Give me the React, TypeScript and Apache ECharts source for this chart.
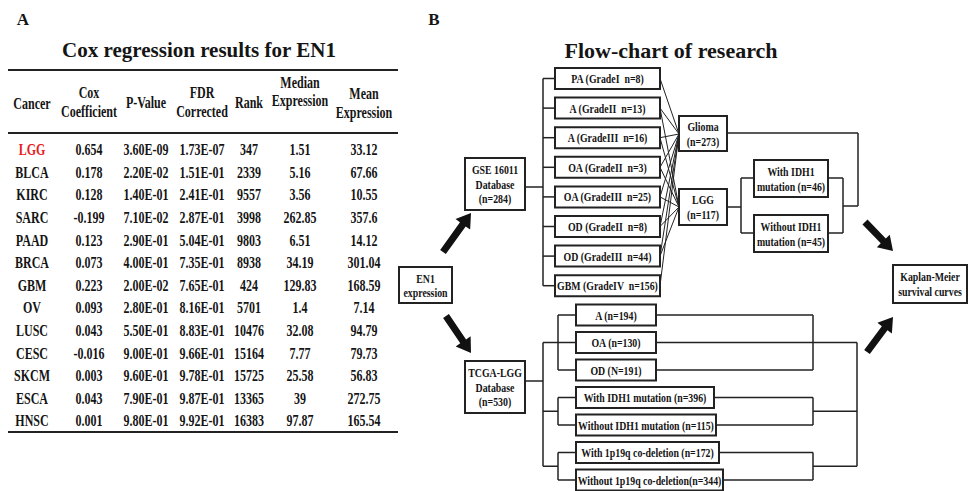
import React, { useEffect, useRef } from "react";
import * as echarts from "echarts";

// ---------------- DATA ----------------
const cancers = ["LGG", "BLCA", "KIRC", "SARC", "PAAD", "BRCA", "GBM", "OV", "LUSC", "CESC", "SKCM", "ESCA", "HNSC"];
const coxCoefficients = [0.654, 0.178, 0.128, -0.199, 0.123, 0.073, 0.223, 0.093, 0.043, -0.016, 0.003, 0.043, 0.001];
const pValues = [3.6e-9, 2.2e-2, 1.4e-1, 7.1e-2, 2.9e-1, 4.0e-1, 2.0e-2, 2.8e-1, 5.5e-1, 9.0e-1, 9.6e-1, 7.9e-1, 9.8e-1];
const fdrCorrected = [1.73e-7, 1.51e-1, 2.41e-1, 2.87e-1, 5.04e-1, 7.35e-1, 7.65e-1, 8.16e-1, 8.83e-1, 9.66e-1, 9.78e-1, 9.87e-1, 9.92e-1];
const ranks = [347, 2339, 9557, 3998, 9803, 8938, 424, 5701, 10476, 15164, 15725, 13365, 16383];
const medianExpression = [1.51, 5.16, 3.56, 262.85, 6.51, 34.19, 129.83, 1.4, 32.08, 7.77, 25.58, 39, 97.87];
const meanExpression = [33.12, 67.66, 10.55, 357.6, 14.12, 301.04, 168.59, 7.14, 94.79, 79.73, 56.83, 272.75, 165.54];
const tableHeaders = [["Cancer"], ["Cox", "Coefficient"], ["P-Value"], ["FDR", "Corrected"], ["Rank"], ["Median", "Expression"], ["Mean", "Expression"]];
const highlightCancer = "LGG";

const titleA = "Cox regression results for EN1";
const titleB = "Flow-chart of research";

const gseGroups = ["PA (GradeI  n=8)", "A (GradeII  n=13)", "A (GradeIII  n=16)", "OA (GradeII  n=3)", "OA (GradeIII  n=25)", "OD (GradeII  n=8)", "OD (GradeIII  n=44)", "GBM (GradeIV  n=156)"];
const gseToLgg = [false, true, true, true, true, true, true, false];
const tcgaGroups = ["A (n=194)", "OA (n=130)", "OD (N=191)", "With IDH1 mutation (n=396)", "Without IDH1 mutation (n=115)", "With 1p19q co-deletion (n=172)", "Without 1p19q co-deletion(n=344)"];
const en1Label = ["EN1", "expression"];
const gseLabel = ["GSE 16011", "Database", "(n=284)"];
const tcgaLabel = ["TCGA-LGG", "Database", "(n=530)"];
const gliomaLabel = ["Glioma", "(n=273)"];
const lggLabel = ["LGG", "(n=117)"];
const idhWithLabel = ["With IDH1", "mutation (n=46)"];
const idhWithoutLabel = ["Without IDH1", "mutation (n=45)"];
const kmLabel = ["Kaplan-Meier", "survival curves"];

// ---------------- LAYOUT ----------------
const SERIF = "'Liberation Serif', 'Times New Roman', serif";
const INK = "#151515";
const LINE = "#222";
const colX = [32, 89, 146, 202, 249, 300, 364];
const rowY0 = 149.5;
const rowStep = 22.6;
const TABLE_SX = 0.75;
const FLOW_SX = 0.73;
const FLOW_FS = 13.5;

function sci(v: number) {
  const [m, e] = v.toExponential(2).split("e");
  const n = parseInt(e, 10);
  return m + "E" + (n < 0 ? "-" : "+") + String(Math.abs(n)).padStart(2, "0");
}

function txt(x: number, y: number, text: string, size: number, sx = 1, color = INK) {
  return {
    type: "text", x, y, scaleX: sx, silent: true,
    style: {
      text, fill: color, fontSize: size, fontWeight: "bold", fontFamily: SERIF,
      textAlign: "center", textVerticalAlign: "middle", align: "center", verticalAlign: "middle",
    },
  };
}
function ln(x1: number, y1: number, x2: number, y2: number, w = 1.5, c = LINE) {
  return { type: "line", silent: true, shape: { x1, y1, x2, y2 }, style: { stroke: c, lineWidth: w } };
}
function box(x: number, y: number, w: number, h: number, lines: string[], size = FLOW_FS, lh = 14) {
  const els: any[] = [
    { type: "rect", silent: true, shape: { x, y, width: w, height: h }, style: { fill: "#fff", stroke: LINE, lineWidth: 2 } },
  ];
  const cy = y + h / 2 - ((lines.length - 1) * lh) / 2;
  lines.forEach((t, i) => els.push(txt(x + w / 2, cy + i * lh, t, size, FLOW_SX)));
  return els;
}
function arrow(x1: number, y1: number, x2: number, y2: number, sw = 7, hw = 18, hl = 14) {
  const dx = x2 - x1, dy = y2 - y1, L = Math.hypot(dx, dy);
  const ux = dx / L, uy = dy / L, px = -uy, py = ux;
  const bx = x2 - ux * hl, by = y2 - uy * hl;
  return {
    type: "polygon", silent: true,
    shape: {
      points: [
        [x1 + (px * sw) / 2, y1 + (py * sw) / 2], [bx + (px * sw) / 2, by + (py * sw) / 2], [bx + (px * hw) / 2, by + (py * hw) / 2],
        [x2, y2], [bx - (px * hw) / 2, by - (py * hw) / 2], [bx - (px * sw) / 2, by - (py * sw) / 2], [x1 - (px * sw) / 2, y1 - (py * sw) / 2],
      ],
    },
    style: { fill: "#111" },
  };
}

function buildElements() {
  const els: any[] = [];
  // ---- Panel A ----
  els.push(txt(23, 19, "A", 17));
  els.push(txt(199, 50, titleA, 21));
  els.push(ln(8, 70, 398, 70, 2));
  els.push(ln(8, 133, 398, 133, 2));
  els.push(ln(8, 432, 398, 432, 2));
  const headerY: number[][] = [[103], [92, 111], [102], [92, 111], [102], [82, 100], [93, 112]];
  tableHeaders.forEach((h, c) => h.forEach((t, i) => els.push(txt(colX[c], headerY[c][i], t, 16, TABLE_SX))));
  cancers.forEach((name, r) => {
    const y = rowY0 + r * rowStep;
    const vals = [
      name, coxCoefficients[r].toFixed(3), sci(pValues[r]), sci(fdrCorrected[r]), String(ranks[r]),
      String(medianExpression[r]), String(meanExpression[r]),
    ];
    vals.forEach((v, c) => els.push(txt(colX[c], y, v, 16, TABLE_SX, c === 0 && name === highlightCancer ? "#e8201c" : INK)));
  });

  // ---- Panel B ----
  els.push(txt(434, 19, "B", 17));
  els.push(txt(671, 50, titleB, 22));

  // GSE branch
  const gTop0 = 68, gPitch = 29.6, gH = 21, gX = 555, gW = 105;
  const gCy = gseGroups.map((_, i) => gTop0 + i * gPitch + gH / 2);
  els.push(ln(525, 187, 543, 187));
  els.push(ln(543, gCy[0], 543, gCy[gCy.length - 1]));
  gCy.forEach((cy) => els.push(ln(543, cy, gX, cy)));
  gCy.forEach((cy, i) => {
    els.push(ln(gX + gW, cy, 679, 134, 1));
    if (gseToLgg[i]) els.push(ln(gX + gW, cy, 679, 207, 1));
  });
  // glioma / LGG connectors
  els.push(ln(727, 133, 858, 133));
  els.push(ln(858, 133, 858, 206));
  els.push(ln(727, 207, 741, 207));
  els.push(ln(741, 178, 741, 233));
  els.push(ln(741, 178, 754, 178));
  els.push(ln(741, 233, 754, 233));
  els.push(ln(828, 178, 843, 178));
  els.push(ln(828, 233, 843, 233));
  els.push(ln(843, 178, 843, 233));
  els.push(ln(843, 206, 858, 206));

  // TCGA branch
  const tTop0 = 304.5, tPitch = 27.5, tH = 21, tX = 576;
  const tW = [80, 80, 80, 138, 140, 143, 147];
  const tCy = tcgaGroups.map((_, i) => tTop0 + i * tPitch + tH / 2);
  els.push(ln(525, 381, 543, 381));
  const groupsIdx = [[0, 1, 2], [3, 4], [5, 6]];
  const mids = groupsIdx.map((g) => (tCy[g[0]] + tCy[g[g.length - 1]]) / 2);
  els.push(ln(543, mids[0], 543, mids[2]));
  groupsIdx.forEach((g, k) => {
    els.push(ln(543, mids[k], 558, mids[k]));
    els.push(ln(558, tCy[g[0]], 558, tCy[g[g.length - 1]]));
    g.forEach((i) => els.push(ln(558, tCy[i], tX, tCy[i])));
    // right side
    g.forEach((i) => els.push(ln(tX + tW[i], tCy[i], 813, tCy[i])));
    els.push(ln(813, tCy[g[0]], 813, tCy[g[g.length - 1]]));
    els.push(ln(813, mids[k], 857, mids[k]));
  });
  els.push(ln(857, mids[0], 857, mids[2]));

  // Boxes
  els.push(...box(399, 267, 53, 36, en1Label, FLOW_FS, 14));
  els.push(...box(465, 158, 60, 52, gseLabel, FLOW_FS, 14.5));
  els.push(...box(465, 361, 60, 52, tcgaLabel, FLOW_FS, 14.5));
  gseGroups.forEach((t, i) => els.push(...box(gX, gTop0 + i * gPitch, gW, gH, [t])));
  els.push(...box(679, 116, 48, 35, gliomaLabel, FLOW_FS, 15));
  els.push(...box(679, 189, 48, 36, lggLabel, FLOW_FS, 15));
  els.push(...box(754, 160, 74, 37, idhWithLabel, FLOW_FS, 15));
  els.push(...box(754, 215, 74, 37, idhWithoutLabel, FLOW_FS, 15));
  els.push(...box(893, 265, 74, 38, kmLabel, FLOW_FS, 15));
  tcgaGroups.forEach((t, i) => els.push(...box(tX, tTop0 + i * tPitch, tW[i], tH, [t])));

  // Arrows
  els.push(arrow(443, 252, 471, 213));
  els.push(arrow(446, 316, 471, 353));
  els.push(arrow(865, 222, 893, 251));
  els.push(arrow(867, 352, 893, 317));
  return els;
}

export default function App() {
  const ref = useRef<HTMLDivElement>(null);
  useEffect(() => {
    if (!ref.current) return;
    const chart = echarts.init(ref.current, null, { renderer: "svg" });
    chart.setOption({
      animation: false,
      backgroundColor: "#fff",
      graphic: { elements: buildElements() },
    });
    return () => chart.dispose();
  }, []);
  return <div ref={ref} style={{ position: "fixed", left: 0, top: 0, width: 970, height: 491, background: "#fff" }} />;
}
